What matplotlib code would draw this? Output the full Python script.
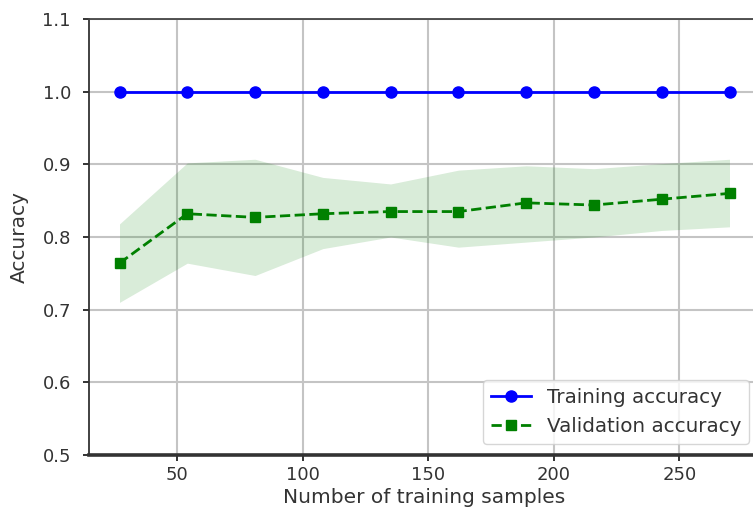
import matplotlib
matplotlib.use("Agg")
import matplotlib.pyplot as plt
import numpy as np

train_sizes = [27, 54, 81, 108, 135, 162, 189, 216, 243, 270]
train_mean = [1.0, 1.0, 1.0, 1.0, 1.0, 1.0, 1.0, 1.0, 1.0, 1.0]
train_std = [0.0, 0.0, 0.0, 0.0, 0.0, 0.0, 0.0, 0.0, 0.0, 0.0]
test_mean = [0.764, 0.832, 0.827, 0.832, 0.835, 0.835, 0.847, 0.844, 0.852, 0.860]
test_upper = [0.818, 0.902, 0.907, 0.882, 0.873, 0.892, 0.898, 0.894, 0.901, 0.907]
test_lower = [0.710, 0.764, 0.747, 0.784, 0.800, 0.786, 0.793, 0.800, 0.809, 0.814]
yticks = [0.5, 0.6, 0.7, 0.8, 0.9, 1.0, 1.1]
xticks = [50, 100, 150, 200, 250]

fig = plt.figure(figsize=(7.53, 5.22), dpi=100)
ax = fig.add_axes([89/753, (522-455)/522, (760-89)/753, 436/522])

tm = np.array(train_mean); ts = np.array(train_std)
ax.plot(train_sizes, train_mean, color='blue', marker='o', markersize=8,
        linewidth=2.0, label='Training accuracy')
ax.fill_between(train_sizes, tm + ts, tm - ts, alpha=0.15, color='blue', linewidth=0)
ax.plot(train_sizes, test_mean, color='green', linestyle='--', marker='s',
        markersize=7.5, linewidth=2.0, label='Validation accuracy')
ax.fill_between(train_sizes, test_upper, test_lower, alpha=0.15, color='green', linewidth=0)

ax.grid(True, color='#c4c4c4', linewidth=1.5)
ax.set_axisbelow(True)
ax.set_ylim(0.5, 1.1)
ax.set_yticks(yticks)
ax.set_xticks(xticks)
ax.set_xlim(14.85, 282.15)
ax.tick_params(labelsize=13, colors='#333333', length=4, width=1.4)
ax.tick_params(axis='y', pad=9)
ax.tick_params(axis='x', pad=4)
ax.set_xlabel('Number of training samples', fontsize=14.5, color='#333333', labelpad=3)
ax.set_ylabel('Accuracy', fontsize=14.5, color='#333333', labelpad=10)
for s in ['left', 'bottom']:
    ax.spines[s].set_color('#333333')
ax.spines['bottom'].set_linewidth(2.6)
ax.spines['left'].set_linewidth(1.3)
ax.spines['top'].set_linewidth(1.3)
ax.spines['top'].set_color('#444444')
leg = ax.legend(loc='lower right', fontsize=14.3,
                bbox_to_anchor=(753/753, (522-448)/522), bbox_transform=fig.transFigure,
                borderaxespad=0.2)
for t in leg.get_texts():
    t.set_color('#333333')

fig.savefig('out.png', dpi=100)
